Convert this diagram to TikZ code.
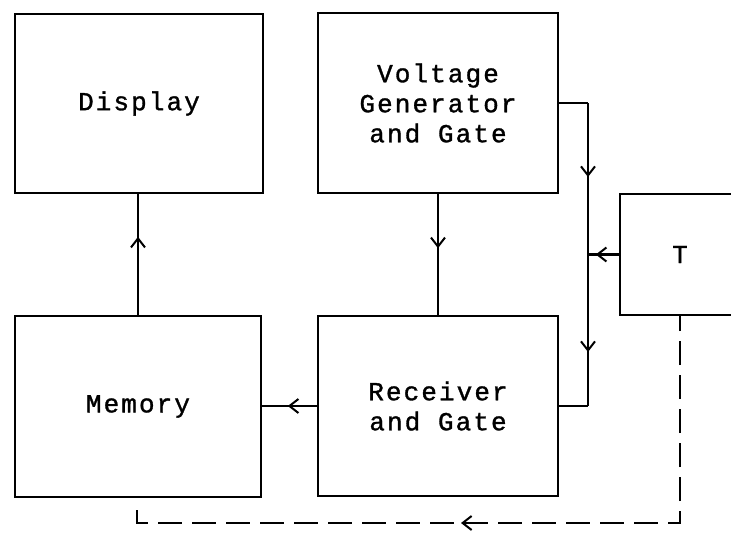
\documentclass[tikz,border=0pt]{standalone}
\usepackage{fontspec}
\newfontfamily\plotfont{Liberation Mono}[LetterSpace=8,FakeBold=1.2]
\usetikzlibrary{arrows.meta,decorations.markings,calc}
\begin{document}
\begin{tikzpicture}[x=1pt,y=-1pt,
  box/.style={draw,line width=2.4pt,inner sep=0pt,align=center,
    font=\plotfont\fontsize{26}{30}\selectfont},
  conn/.style={line width=2.2pt},
  dsh/.style={line width=2.2pt,dash pattern=on 24pt off 10pt},
  arr at/.style={postaction={decorate,decoration={markings,
    mark=at position #1 with {\arrow[line width=2pt]{Straight Barb[length=9pt,width=14pt]}}}}},
  rarr at/.style={postaction={decorate,decoration={markings,
    mark=at position #1 with {\arrowreversed[line width=2pt]{Straight Barb[length=9pt,width=14pt]}}}}}]
\useasboundingbox (0,0) rectangle (731,533);
\node[box,minimum width=248pt,minimum height=179pt] (disp) at (139,103.5) {Display};
\node[box,minimum width=240pt,minimum height=180pt] (vg) at (438,103) {Voltage\\Generator\\and Gate};
\node[box,minimum width=246pt,minimum height=181pt] (mem) at (138,406.5) {Memory};
\node[box,minimum width=240pt,minimum height=180pt] (rec) at (438,406) {Receiver\\and Gate};
\node[box,minimum width=120pt,minimum height=121pt] (t) at (680,254.5) {T};
\coordinate (jx) at (588,0);
\coordinate (dl) at (137,523);
\coordinate (de) at (137,510);
% voltage generator to junction bus and receiver
\draw[conn] (vg.east) -- (vg.east -| jx);
\draw[conn,arr at=74pt,arr at=249pt] (vg.east -| jx) -- (rec.east -| jx);
\draw[conn] (rec.east -| jx) -- (rec.east);
% T into bus
\draw[conn,arr at=23pt] (t.west) -- (t.west -| jx);
% vertical links
\draw[conn,arr at=54pt] (vg.south) -- (rec.north);
\draw[conn,arr at=78pt] (mem.north) -- (mem.north |- disp.south);
\draw[conn,arr at=29pt] (rec.west) -- (rec.west -| mem.east);
% dashed return (drawn from its free end so the corner tick shows)
\draw[dsh,rarr at=337pt] (de) -- (dl) -- (t.south |- dl) -- (t.south);
\end{tikzpicture}
\end{document}
